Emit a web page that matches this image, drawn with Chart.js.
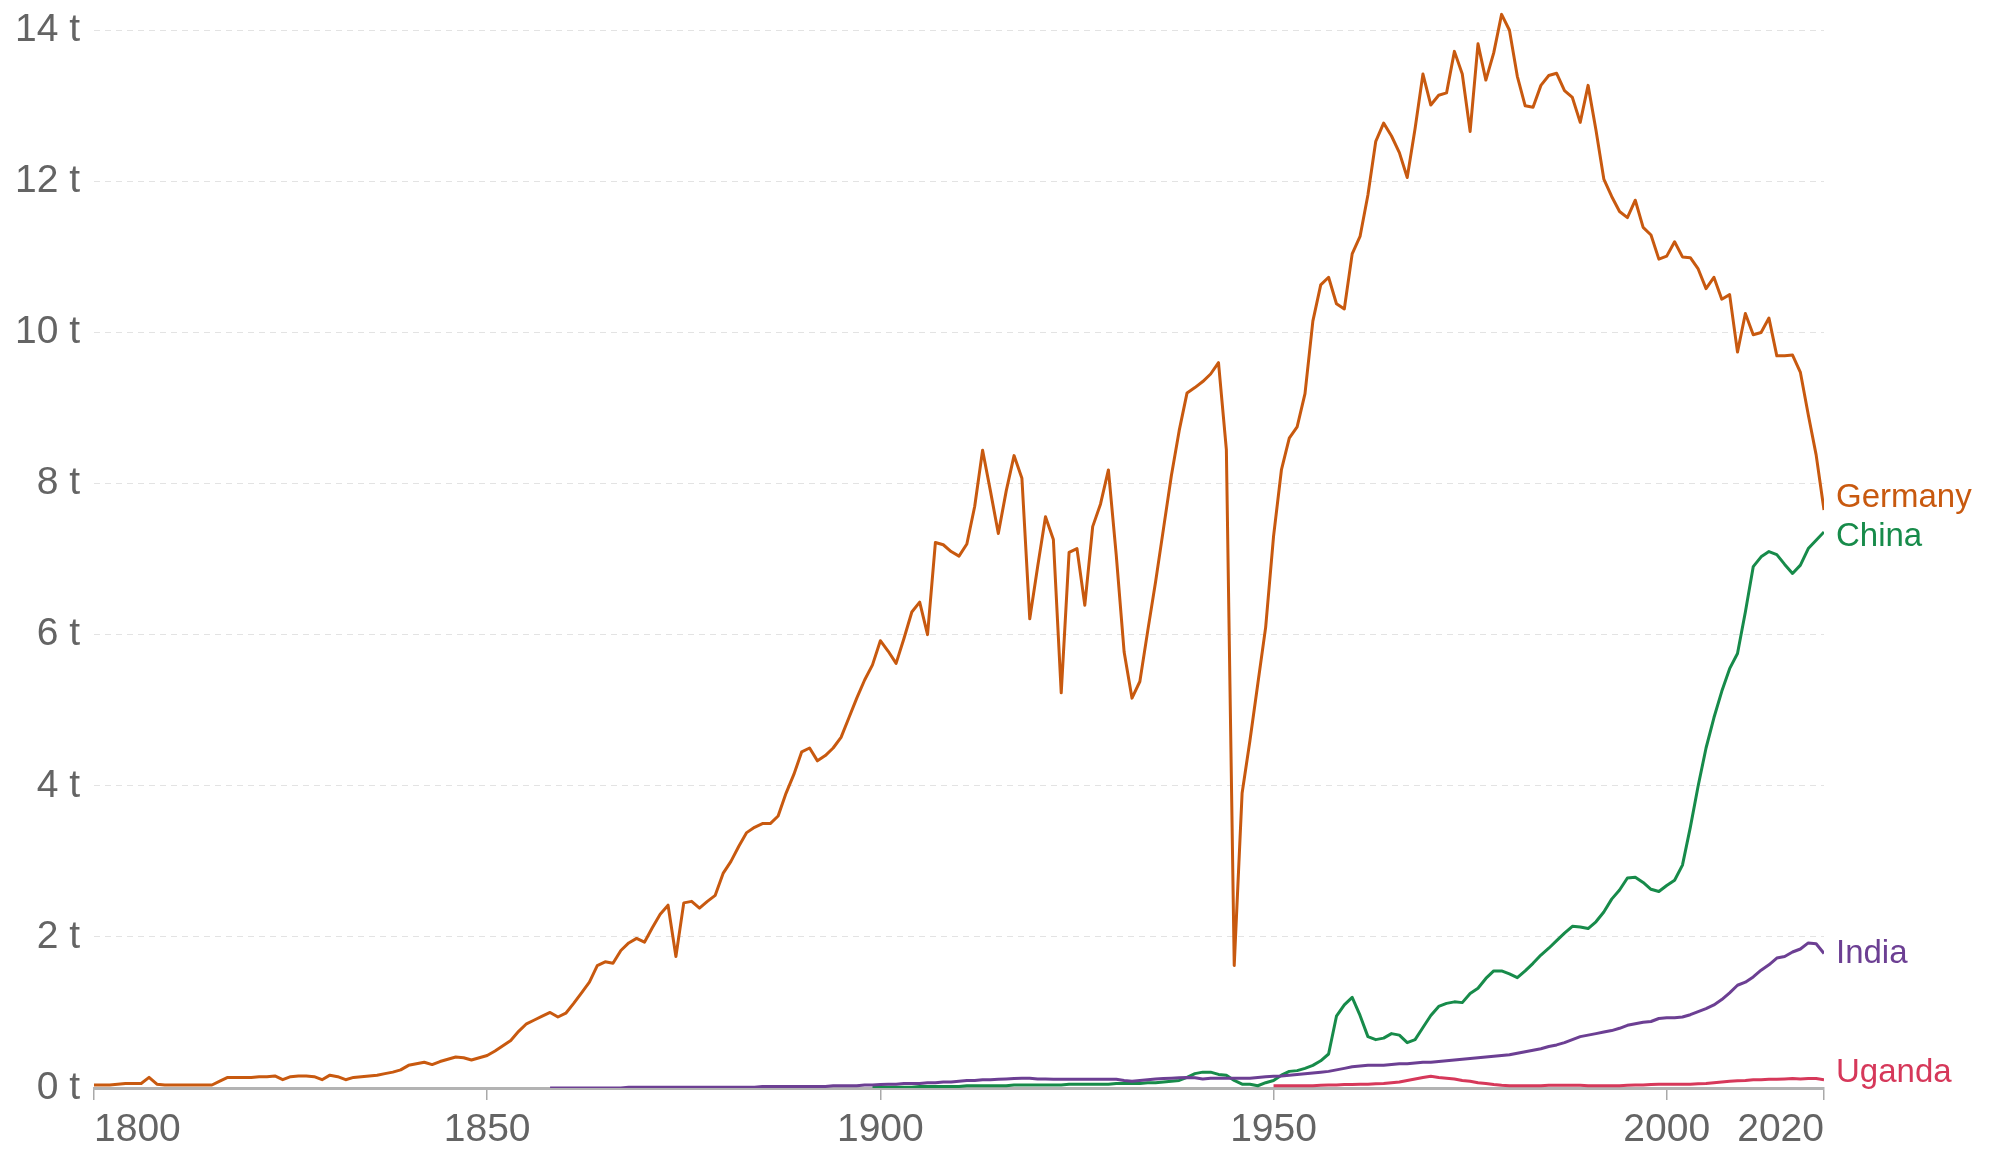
<!DOCTYPE html>
<html>
<head>
<meta charset="utf-8">
<title>CO2 emissions per capita</title>
<script src="https://cdn.jsdelivr.net/npm/chart.js@4.4.1/dist/chart.umd.min.js"></script>
<style>
    html, body { margin: 0; padding: 0; background: #fff; }
    canvas { display: block; }
</style>
</head>
<body>
<canvas id="plot1" width="1992" height="1149"></canvas>
<script>
// Annual CO2 per capita (tonnes)
const germanyStart = 1800;
const germanyValues = [
    0.04, 0.04, 0.04, 0.05, 0.06, 0.06, 0.06, 0.14, 0.05, 0.04,   // 1800s
    0.04, 0.04, 0.04, 0.04, 0.04, 0.04, 0.09, 0.14, 0.14, 0.14,   // 1810s
    0.14, 0.15, 0.15, 0.16, 0.11, 0.15, 0.16, 0.16, 0.15, 0.11,   // 1820s
    0.17, 0.15, 0.11, 0.14, 0.15, 0.16, 0.17, 0.19, 0.21, 0.24,   // 1830s
    0.30, 0.32, 0.34, 0.31, 0.35, 0.38, 0.41, 0.40, 0.37, 0.40,   // 1840s
    0.43, 0.49, 0.56, 0.63, 0.75, 0.85, 0.90, 0.95, 1.00, 0.94,   // 1850s
    0.99, 1.12, 1.26, 1.40, 1.62, 1.67, 1.65, 1.82, 1.92, 1.98,   // 1860s
    1.93, 2.12, 2.30, 2.42, 1.74, 2.45, 2.47, 2.38, 2.47, 2.55,   // 1870s
    2.84, 3.00, 3.20, 3.38, 3.45, 3.50, 3.50, 3.60, 3.90, 4.15,   // 1880s
    4.45, 4.50, 4.33, 4.40, 4.50, 4.64, 4.90, 5.16, 5.40, 5.60,   // 1890s
    5.92, 5.78, 5.62, 5.95, 6.30, 6.43, 6.00, 7.22, 7.19, 7.10,   // 1900s
    7.04, 7.20, 7.70, 8.44, 7.90, 7.34, 7.90, 8.37, 8.07, 6.21,   // 1910s
    6.90, 7.56, 7.26, 5.23, 7.09, 7.14, 6.39, 7.43, 7.73, 8.18,   // 1920s
    7.05, 5.77, 5.16, 5.38, 6.05, 6.70, 7.40, 8.10, 8.70, 9.20,   // 1930s
    9.27, 9.35, 9.45, 9.60, 8.45, 1.62, 3.90, 4.60, 5.35, 6.10,   // 1940s
    7.30, 8.18, 8.60, 8.75, 9.19, 10.15, 10.63, 10.73, 10.38, 10.31, // 1950s
    11.04, 11.27, 11.82, 12.53, 12.77, 12.60, 12.38, 12.05, 12.70, 13.42, // 1960s
    13.01, 13.14, 13.17, 13.72, 13.42, 12.66, 13.82, 13.34, 13.70, 14.21, // 1970s
    14.00, 13.39, 13.00, 12.98, 13.27, 13.40, 13.43, 13.20, 13.11, 12.78, // 1980s
    13.27, 12.68, 12.03, 11.80, 11.60, 11.52, 11.75, 11.39, 11.29, 10.97, // 1990s
    11.01, 11.20, 11.00, 10.99, 10.84, 10.58, 10.73, 10.44, 10.50, 9.74,  // 2000s
    10.25, 9.97, 10.00, 10.19, 9.69, 9.69, 9.70, 9.47, 8.91, 8.38,        // 2010s
    7.65                                                                  // 2020
];

const chinaStart = 1899;
const chinaValues = [
    0.01,                                                         // 1899
    0.01, 0.01, 0.01, 0.01, 0.01, 0.02, 0.02, 0.02, 0.02, 0.02,   // 1900s
    0.02, 0.03, 0.03, 0.03, 0.03, 0.03, 0.03, 0.04, 0.04, 0.04,   // 1910s
    0.04, 0.04, 0.04, 0.04, 0.05, 0.05, 0.05, 0.05, 0.05, 0.05,   // 1920s
    0.06, 0.06, 0.06, 0.06, 0.07, 0.07, 0.08, 0.09, 0.10, 0.14,   // 1930s
    0.19, 0.21, 0.21, 0.18, 0.17, 0.10, 0.05, 0.05, 0.03, 0.07,   // 1940s
    0.10, 0.17, 0.22, 0.23, 0.26, 0.30, 0.36, 0.45, 0.95, 1.10,   // 1950s
    1.20, 0.96, 0.68, 0.64, 0.66, 0.72, 0.70, 0.60, 0.64, 0.80,   // 1960s
    0.96, 1.08, 1.12, 1.14, 1.13, 1.25, 1.32, 1.45, 1.55, 1.55,   // 1970s
    1.51, 1.46, 1.55, 1.65, 1.76, 1.85, 1.95, 2.05, 2.14, 2.13,   // 1980s
    2.11, 2.20, 2.33, 2.50, 2.62, 2.78, 2.79, 2.72, 2.63, 2.60,   // 1990s
    2.68, 2.75, 2.95, 3.45, 4.00, 4.50, 4.90, 5.25, 5.55, 5.75,   // 2000s
    6.30, 6.90, 7.03, 7.10, 7.06, 6.93, 6.81, 6.92, 7.14, 7.25,   // 2010s
    7.36                                                          // 2020
];

const indiaStart = 1858;
const indiaValues = [
    0.00, 0.00,                                                   // 1858-59
    0.00, 0.00, 0.00, 0.00, 0.00, 0.00, 0.00, 0.00, 0.01, 0.01,   // 1860s
    0.01, 0.01, 0.01, 0.01, 0.01, 0.01, 0.01, 0.01, 0.01, 0.01,   // 1870s
    0.01, 0.01, 0.01, 0.01, 0.01, 0.02, 0.02, 0.02, 0.02, 0.02,   // 1880s
    0.02, 0.02, 0.02, 0.02, 0.03, 0.03, 0.03, 0.03, 0.04, 0.04,   // 1890s
    0.045, 0.05, 0.05, 0.06, 0.06, 0.06, 0.07, 0.07, 0.08, 0.08,  // 1900s
    0.09, 0.10, 0.10, 0.11, 0.11, 0.115, 0.12, 0.125, 0.13, 0.13, // 1910s
    0.12, 0.12, 0.115, 0.115, 0.115, 0.115, 0.115, 0.115, 0.115, 0.115, // 1920s
    0.115, 0.10, 0.09, 0.10, 0.11, 0.12, 0.125, 0.13, 0.135, 0.14, // 1930s
    0.135, 0.12, 0.13, 0.13, 0.13, 0.13, 0.13, 0.13, 0.14, 0.15,  // 1940s
    0.155, 0.16, 0.17, 0.18, 0.19, 0.20, 0.21, 0.22, 0.24, 0.26,  // 1950s
    0.28, 0.29, 0.30, 0.30, 0.30, 0.31, 0.32, 0.32, 0.33, 0.34,   // 1960s
    0.34, 0.35, 0.36, 0.37, 0.38, 0.39, 0.40, 0.41, 0.42, 0.43,   // 1970s
    0.44, 0.46, 0.48, 0.50, 0.52, 0.55, 0.57, 0.60, 0.64, 0.68,   // 1980s
    0.70, 0.72, 0.74, 0.76, 0.79, 0.83, 0.85, 0.87, 0.88, 0.92,   // 1990s
    0.93, 0.93, 0.94, 0.97, 1.01, 1.05, 1.10, 1.17, 1.26, 1.36,   // 2000s
    1.40, 1.47, 1.56, 1.63, 1.72, 1.74, 1.80, 1.84, 1.92, 1.91,   // 2010s
    1.78                                                          // 2020
];

const ugandaStart = 1950;
const ugandaValues = [
    0.03, 0.03, 0.03, 0.03, 0.03, 0.03, 0.035, 0.04, 0.04, 0.045, // 1950s
    0.045, 0.05, 0.05, 0.055, 0.06, 0.07, 0.08, 0.10, 0.12, 0.14, // 1960s
    0.155, 0.14, 0.13, 0.12, 0.10, 0.09, 0.07, 0.06, 0.045, 0.035, // 1970s
    0.03, 0.03, 0.03, 0.03, 0.03, 0.035, 0.035, 0.035, 0.035, 0.035, // 1980s
    0.03, 0.03, 0.03, 0.03, 0.03, 0.035, 0.04, 0.04, 0.045, 0.05, // 1990s
    0.05, 0.05, 0.05, 0.05, 0.055, 0.06, 0.07, 0.08, 0.09, 0.095, // 2000s
    0.10, 0.11, 0.11, 0.115, 0.115, 0.12, 0.125, 0.12, 0.125, 0.125, // 2010s
    0.11                                                          // 2020
];

const countries = ['Germany', 'China', 'India', 'Uganda'];
const xTickYears = [1800, 1850, 1900, 1950, 2000, 2020];
const yTickValues = [0, 2, 4, 6, 8, 10, 12, 14];

function toPoints(start, values) {
    return values.map((v, i) => ({ x: start + i, y: v }));
}

const colors = ['#c8590f', '#178b4a', '#6c3f93', '#d6385a'];
const labelNudge = [-12, 5, 0, -7]; // keep end labels from overlapping

const fontFamily = '"Liberation Sans", Arial, Helvetica, sans-serif';

// Draws the country names next to the last point of each line
const endLabels = {
    id: 'endLabels',
    afterDatasetsDraw(chart) {
        const ctx = chart.ctx;
        ctx.save();
        ctx.font = '33px ' + fontFamily;
        ctx.textAlign = 'left';
        ctx.textBaseline = 'middle';
        chart.data.datasets.forEach((ds, i) => {
            const meta = chart.getDatasetMeta(i);
            const last = meta.data[meta.data.length - 1];
            const k = countries.indexOf(ds.label);
            ctx.fillStyle = ds.borderColor;
            ctx.fillText(ds.label, last.x + 12, last.y + labelNudge[k]);
        });
        ctx.restore();
    }
};

const series = [
    toPoints(germanyStart, germanyValues),
    toPoints(chinaStart, chinaValues),
    toPoints(indiaStart, indiaValues),
    toPoints(ugandaStart, ugandaValues)
];

const plot1 = document.getElementById('plot1').getContext('2d');
new Chart(plot1, {
    type: 'line',
    data: {
        datasets: countries.map((name, i) => ({
            label: name,
            data: series[i],
            borderColor: colors[i],
            backgroundColor: colors[i],
            borderWidth: 3,
            pointRadius: 0,
            tension: 0,
            fill: false,
            borderJoinStyle: 'round'
        })).reverse()
    },
    options: {
        responsive: false,
        devicePixelRatio: 1,
        animation: false,
        layout: { padding: { left: 0, right: 168, top: 0, bottom: 0 } },
        plugins: {
            legend: { display: false },
            tooltip: { enabled: false }
        },
        scales: {
            x: {
                type: 'linear',
                min: 1800,
                max: 2020,
                afterBuildTicks: (scale) => {
                    scale.ticks = xTickYears.map(v => ({ value: v }));
                },
                afterFit: (scale) => {
                    scale.height = 61;
                    scale.paddingLeft = 0;
                    scale.paddingRight = 0;
                },
                ticks: {
                    align: 'inner',
                    autoSkip: false,
                    maxRotation: 0,
                    padding: 7,
                    color: '#646464',
                    font: { family: fontFamily, size: 39 },
                    callback: (v) => String(v)
                },
                grid: {
                    drawOnChartArea: false,
                    drawTicks: true,
                    tickLength: 12,
                    color: '#a9a9a9',
                    lineWidth: 1.5
                },
                border: { display: true, color: '#b3b3b3', width: 3 }
            },
            y: {
                min: 0,
                max: 14.4,
                afterBuildTicks: (scale) => {
                    scale.ticks = yTickValues.map(v => ({ value: v }));
                },
                afterFit: (scale) => {
                    scale.width = 94;
                    scale.paddingTop = 0;
                    scale.paddingBottom = 0;
                },
                ticks: {
                    padding: 14,
                    color: '#646464',
                    font: { family: fontFamily, size: 39 },
                    callback: (v) => v + ' t'
                },
                grid: {
                    drawTicks: false,
                    color: (c) => (c.tick && c.tick.value === 0) ? 'rgba(0,0,0,0)' : '#e3e3e3',
                    lineWidth: 1
                },
                border: { display: false, dash: [6, 5] }
            }
        }
    },
    plugins: [endLabels]
});
</script>
</body>
</html>
